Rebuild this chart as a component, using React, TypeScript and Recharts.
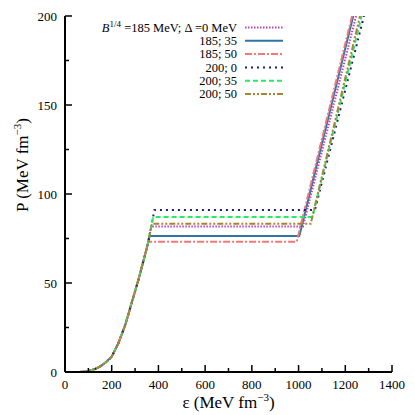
import { LineChart, Line, XAxis, YAxis, Label } from 'recharts';

// hadronic branch, shared by all curves
const hadronEps = [0, 50, 86, 100, 125, 150, 175, 200, 228, 257, 285, 314, 335, 355];
const hadronP = [0, 0, 0.2, 0.5, 1.5, 3, 5.5, 8.6, 16, 26, 38.6, 51.7, 62, 72];

// mixed phase plateau + quark branch, one entry per curve
const seriesNames = ['185; 0', '185; 35', '185; 50', '200; 0', '200; 35', '200; 50'];
const plateauP = [81.8, 76.4, 73.2, 91.0, 87.1, 83.3];
const plateauStart = [369, 362, 357, 383, 377, 372];
const plateauEnd = [1019, 1003, 992, 1070, 1059, 1052];
const topEps = [1246, 1234, 1229, 1280, 1270, 1263];
const topP = 200;

const xTicks = [0, 100, 200, 300, 400, 500, 600, 700, 800, 900, 1000, 1100, 1200, 1300, 1400];
const yTicks = [0, 25, 50, 75, 100, 125, 150, 175, 200];

const COLORS = ['#c040c0', '#2e75a3', '#f07878', '#1c1c7a', '#22ee66', '#a88530'];
const DASHES = ['1.5 1.5', undefined, '7 2 2 2', '2 4', '5 3', '6 2 2 2 2 2'];

const serif = { fontFamily: "'Liberation Serif', 'Times New Roman', 'DejaVu Serif', serif" };

const buildSeries = (i: number) => {
  const pts = hadronEps
    .map((e, k) => ({ eps: e, p: hadronP[k] }))
    .filter((d) => d.eps < plateauStart[i]);
  pts.push(
    { eps: plateauStart[i], p: plateauP[i] },
    { eps: plateauEnd[i], p: plateauP[i] },
    { eps: topEps[i], p: topP }
  );
  return pts;
};

const BottomTick = ({ x, y, payload }: any) => {
  const major = payload.value % 200 === 0;
  return (
    <g>
      <line x1={x} x2={x} y1={y} y2={y - (major ? 7 : 4)} stroke="#000" strokeWidth={1.5} />
      {major && (
        <text x={x} y={y + 17} textAnchor="middle" fontSize={13} style={serif} fill="#000">
          {payload.value}
        </text>
      )}
    </g>
  );
};

const TopTick = ({ x, y, payload }: any) => {
  const major = payload.value % 200 === 0;
  return <line x1={x} x2={x} y1={y} y2={y + (major ? 7 : 4)} stroke="#000" strokeWidth={1.5} />;
};

const LeftTick = ({ x, y, payload }: any) => {
  const major = payload.value % 50 === 0;
  return (
    <g>
      <line x1={x} x2={x + (major ? 7 : 4)} y1={y} y2={y} stroke="#000" strokeWidth={1.5} />
      {major && (
        <text x={x - 8} y={y + 4.5} textAnchor="end" fontSize={13} style={serif} fill="#000">
          {payload.value}
        </text>
      )}
    </g>
  );
};

const RightTick = ({ x, y, payload }: any) => {
  const major = payload.value % 50 === 0;
  return <line x1={x} x2={x - (major ? 7 : 4)} y1={y} y2={y} stroke="#000" strokeWidth={1.5} />;
};

const XTitle = ({ viewBox }: any) => (
  <text x={viewBox.x + viewBox.width / 2} y={viewBox.y + 36} textAnchor="middle" fontSize={17} style={serif} fill="#000">
    ε (MeV fm<tspan dy={-7} fontSize={11}>−3</tspan>
    <tspan dy={7}>)</tspan>
  </text>
);

const YTitle = () => (
  <text x={28} y={165} transform="rotate(-90 28 165)" textAnchor="middle" fontSize={17} style={serif} fill="#000">
    P (MeV fm<tspan dy={-7} fontSize={11}>−3</tspan>
    <tspan dy={7}>)</tspan>
  </text>
);

const LegendBox = () => (
  <svg width={415} height={415} style={{ position: 'absolute', left: 0, top: 0, pointerEvents: 'none' }}>
    {seriesNames.map((name, i) => {
      const cy = 27.5 + i * 13.3;
      return (
        <g key={name}>
          <text x={237} y={cy + 4.3} textAnchor="end" fontSize={12.5} style={serif} fill="#000">
            {i === 0 ? (
              <>
                <tspan fontStyle="italic">B</tspan>
                <tspan dy={-5} fontSize={9}>1/4</tspan>
                <tspan dy={5}> =185 MeV; Δ =0 MeV</tspan>
              </>
            ) : (
              name
            )}
          </text>
          <line x1={245} x2={283} y1={cy} y2={cy} stroke={COLORS[i]} strokeWidth={2} strokeDasharray={DASHES[i]} />
        </g>
      );
    })}
  </svg>
);

export default function App() {
  return (
    <div style={{ position: 'absolute', left: 0, top: 0, width: 415, height: 415, background: '#fff' }}>
      <LineChart width={415} height={415} margin={{ top: 16, right: 23, bottom: 3, left: 10 }}>
        <XAxis
          dataKey="eps"
          type="number"
          domain={[0, 1400]}
          ticks={xTicks}
          interval={0}
          allowDataOverflow
          height={40}
          tickSize={0}
          tickMargin={0}
          tick={<BottomTick />}
          axisLine={{ stroke: '#000', strokeWidth: 2 }}
        >
          <Label content={<XTitle />} />
        </XAxis>
        <XAxis
          xAxisId="top"
          orientation="top"
          dataKey="eps"
          type="number"
          domain={[0, 1400]}
          ticks={xTicks}
          interval={0}
          allowDataOverflow
          height={0}
          tickSize={0}
          tickMargin={0}
          tick={<TopTick />}
          axisLine={{ stroke: '#000', strokeWidth: 2 }}
        />
        <YAxis
          type="number"
          domain={[0, 200]}
          ticks={yTicks}
          interval={0}
          allowDataOverflow
          width={55}
          tickSize={0}
          tickMargin={0}
          tick={<LeftTick />}
          axisLine={{ stroke: '#000', strokeWidth: 2 }}
        >
          <Label content={<YTitle />} />
        </YAxis>
        <YAxis
          yAxisId="right"
          orientation="right"
          type="number"
          domain={[0, 200]}
          ticks={yTicks}
          interval={0}
          allowDataOverflow
          width={0}
          tickSize={0}
          tickMargin={0}
          tick={<RightTick />}
          axisLine={{ stroke: '#000', strokeWidth: 2 }}
        />
        {seriesNames.map((name, i) => (
          <Line
            key={name}
            data={buildSeries(i)}
            dataKey="p"
            name={name}
            type="linear"
            stroke={COLORS[i]}
            strokeWidth={2}
            strokeDasharray={DASHES[i]}
            dot={false}
            isAnimationActive={false}
          />
        ))}
      </LineChart>
      <LegendBox />
    </div>
  );
}
